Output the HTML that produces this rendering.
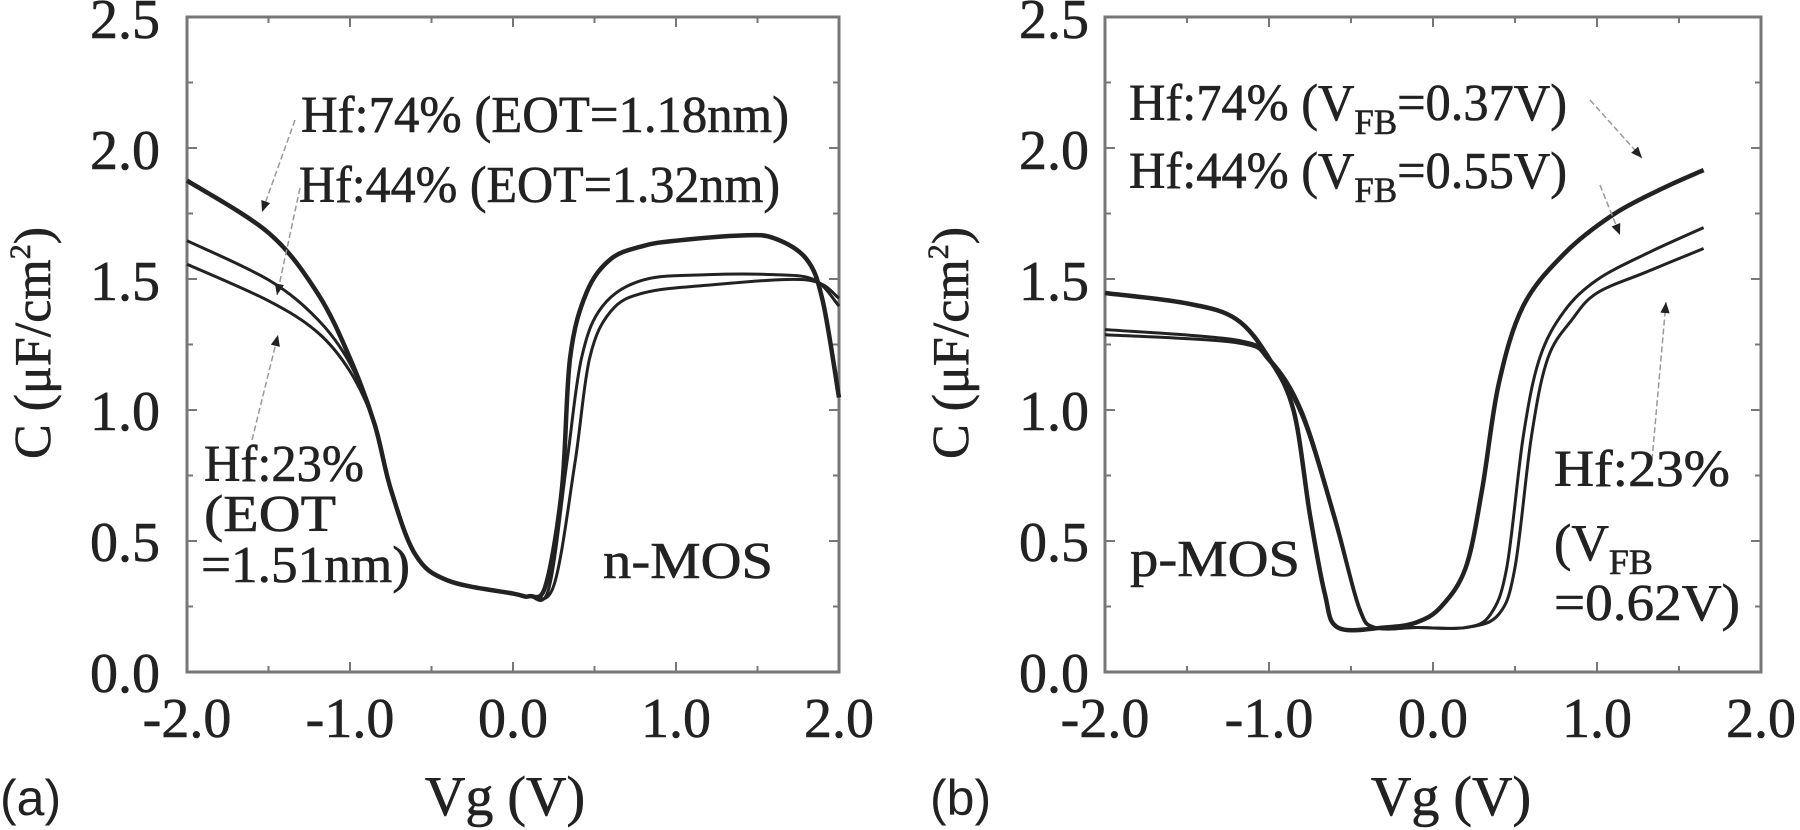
<!DOCTYPE html>
<html><head><meta charset="utf-8"><style>
html,body{margin:0;padding:0;background:#fff;}
svg{display:block;}
text{font-family:"Liberation Serif",serif;fill:#222;stroke:#222;stroke-width:0.6;}
</style></head><body>
<svg id="s" width="1800" height="830" viewBox="0 0 1800 830" xmlns="http://www.w3.org/2000/svg">
<g id="g"></g>
<g font-size="56" text-anchor="end">
<text x="160" y="692">0.0</text><text x="160" y="561">0.5</text><text x="160" y="430">1.0</text><text x="160" y="300">1.5</text><text x="160" y="169">2.0</text><text x="160" y="38">2.5</text>
<text x="1089" y="692">0.0</text><text x="1089" y="561">0.5</text><text x="1089" y="430">1.0</text><text x="1089" y="300">1.5</text><text x="1089" y="169">2.0</text><text x="1089" y="38">2.5</text>
</g>
<g font-size="56" text-anchor="middle">
<text x="187" y="737">-2.0</text><text x="350" y="737">-1.0</text><text x="513" y="737">0.0</text><text x="676" y="737">1.0</text><text x="839" y="737">2.0</text>
<text x="1105" y="737">-2.0</text><text x="1269" y="737">-1.0</text><text x="1433" y="737">0.0</text><text x="1597" y="737">1.0</text><text x="1761" y="737">2.0</text>
<text x="505" y="815">Vg (V)</text><text x="1451" y="815">Vg (V)</text>
</g>
<text x="0" y="815" font-size="50" style="font-family:'Liberation Sans',sans-serif;stroke-width:0">(a)</text>
<text x="930" y="815" font-size="50" style="font-family:'Liberation Sans',sans-serif;stroke-width:0">(b)</text>
<text transform="translate(50,343) rotate(-90)" font-size="52" text-anchor="middle">C (μF/cm<tspan font-size="30" dy="-20">2</tspan><tspan dy="20">)</tspan></text>
<text transform="translate(968,343) rotate(-90)" font-size="52" text-anchor="middle">C (μF/cm<tspan font-size="30" dy="-20">2</tspan><tspan dy="20">)</tspan></text>
<g font-size="52">
<text x="301" y="132" textLength="488" lengthAdjust="spacingAndGlyphs">Hf:74% (EOT=1.18nm)</text>
<text x="299" y="202" textLength="481" lengthAdjust="spacingAndGlyphs">Hf:44% (EOT=1.32nm)</text>
<text x="204" y="481" textLength="160" lengthAdjust="spacingAndGlyphs">Hf:23%</text>
<text x="204" y="531" textLength="132" lengthAdjust="spacingAndGlyphs">(EOT</text>
<text x="201" y="582" textLength="209" lengthAdjust="spacingAndGlyphs">=1.51nm)</text>
<text x="603" y="578" textLength="170" lengthAdjust="spacingAndGlyphs">n-MOS</text>
<text x="1129" y="120" textLength="438" lengthAdjust="spacingAndGlyphs">Hf:74% (V<tspan font-size="36" dy="14">FB</tspan><tspan dy="-14">=0.37V)</tspan></text>
<text x="1129" y="188" textLength="438" lengthAdjust="spacingAndGlyphs">Hf:44% (V<tspan font-size="36" dy="14">FB</tspan><tspan dy="-14">=0.55V)</tspan></text>
<text x="1554" y="486" textLength="176" lengthAdjust="spacingAndGlyphs">Hf:23%</text>
<text x="1554" y="560">(V<tspan font-size="36" dy="14">FB</tspan></text>
<text x="1554" y="620" textLength="186" lengthAdjust="spacingAndGlyphs">=0.62V)</text>
<text x="1130" y="576" textLength="170" lengthAdjust="spacingAndGlyphs">p-MOS</text>
</g>
</svg>
<script>
var g=document.getElementById('g');
function el(t,a){var e=document.createElementNS('http://www.w3.org/2000/svg',t);for(var k in a)e.setAttribute(k,a[k]);g.appendChild(e);return e;}
function frame(x0){
  var x1=x0+652*(x0>1000?656/652:1), y0=17,y1=672;
  el('rect',{x:x0,y:y0,width:x1-x0,height:y1-y0,fill:'none',stroke:'#777','stroke-width':3});
  for(var i=1;i<8;i++){var x=x0+(x1-x0)*i/8;var L=i%2?6:10;
    el('line',{x1:x,y1:y1,x2:x,y2:y1-L,stroke:'#777','stroke-width':2});
    el('line',{x1:x,y1:y0,x2:x,y2:y0+L,stroke:'#777','stroke-width':2});}
  for(var j=1;j<10;j++){var y=y1-(y1-y0)*j/10;var L=j%2?6:10;
    el('line',{x1:x0,y1:y,x2:x0+L,y2:y,stroke:'#777','stroke-width':2});
    el('line',{x1:x1,y1:y,x2:x1-L,y2:y,stroke:'#777','stroke-width':2});}
}
frame(187);frame(1105);
function path(x0,sx,pts,w){
  var P=pts.map(function(p){return [x0+(p[0]+2)*sx,672-p[1]*261.4];});
  var d='M'+P[0][0]+','+P[0][1];
  for(var i=0;i<P.length-1;i++){
    var p0=P[Math.max(0,i-1)],p1=P[i],p2=P[i+1],p3=P[Math.min(P.length-1,i+2)];
    d+=' C'+(p1[0]+(p2[0]-p0[0])/6)+','+(p1[1]+(p2[1]-p0[1])/6)+' '+(p2[0]-(p3[0]-p1[0])/6)+','+(p2[1]-(p3[1]-p1[1])/6)+' '+p2[0]+','+p2[1];
  }
  el('path',{d:d,fill:'none',stroke:'#222','stroke-width':w,'stroke-linejoin':'round'});
}
var L=function(p){path(187,163,p[0],p[1]);}, R=function(p){path(1105,164,p[0],p[1]);};
var lowL=[[-0.85,0.95],[-0.75,0.7],[-0.6,0.45],[-0.4,0.35],[0,0.3],[0.1,0.29]];
L([[[-2,1.88],[-1.5,1.68],[-1.2,1.45],[-1,1.2]].concat(lowL,[[0.2,0.33],[0.3,0.7],[0.35,1.2],[0.45,1.45],[0.6,1.58],[0.8,1.63],[1.0,1.65],[1.4,1.67],[1.6,1.66],[1.8,1.58],[1.9,1.42],[2.0,1.05]]),4.5]);
L([[[-2,1.65],[-1.5,1.5],[-1.2,1.35],[-1,1.18]].concat(lowL,[[0.22,0.32],[0.33,0.8],[0.42,1.2],[0.55,1.4],[0.8,1.5],[1.2,1.52],[1.6,1.52],[1.85,1.5],[2,1.4]]),3]);
L([[[-2,1.56],[-1.5,1.42],[-1.2,1.3],[-1,1.15]].concat(lowL,[[0.25,0.33],[0.38,0.8],[0.47,1.2],[0.6,1.38],[0.8,1.45],[1.2,1.48],[1.8,1.5],[2,1.43]]),3]);
R([[[-2,1.45],[-1.5,1.41],[-1.2,1.35],[-1,1.2],[-0.85,1.0],[-0.75,0.6],[-0.66,0.3],[-0.58,0.17],[-0.3,0.17],[-0.1,0.19],[0.05,0.25],[0.2,0.4],[0.3,0.7],[0.4,1.1],[0.55,1.4],[0.8,1.6],[1.1,1.75],[1.4,1.85],[1.65,1.92]],4.5]);
R([[[-2,1.31],[-1.2,1.27],[-1,1.2],[-0.8,1.0],[-0.6,0.6],[-0.45,0.25],[-0.35,0.17],[-0.1,0.17],[0.2,0.17],[0.35,0.22],[0.45,0.4],[0.55,0.9],[0.65,1.2],[0.8,1.38],[1.0,1.5],[1.3,1.6],[1.65,1.7]],3]);
R([[[-2,1.29],[-1.2,1.26],[-1,1.19],[-0.8,0.98],[-0.6,0.58],[-0.45,0.24],[-0.35,0.17],[-0.1,0.17],[0.2,0.17],[0.4,0.22],[0.5,0.4],[0.6,0.9],[0.7,1.2],[0.85,1.35],[1.0,1.45],[1.3,1.53],[1.65,1.62]],3]);
function lead(x1,y1,x2,y2){el('line',{x1:x1,y1:y1,x2:x2,y2:y2,stroke:'#999','stroke-width':1.5,'stroke-dasharray':'6 3'});
 var a=Math.atan2(y2-y1,x2-x1),s=12;
 el('polygon',{points:x2+','+y2+' '+(x2-s*Math.cos(a-0.4))+','+(y2-s*Math.sin(a-0.4))+' '+(x2-s*Math.cos(a+0.4))+','+(y2-s*Math.sin(a+0.4)),fill:'#222'});}
lead(295,120,262,212);lead(300,188,277,295);lead(252,440,278,335);
lead(1590,100,1642,158);lead(1600,185,1620,235);lead(1652,460,1666,302);
</script>
</body></html>
